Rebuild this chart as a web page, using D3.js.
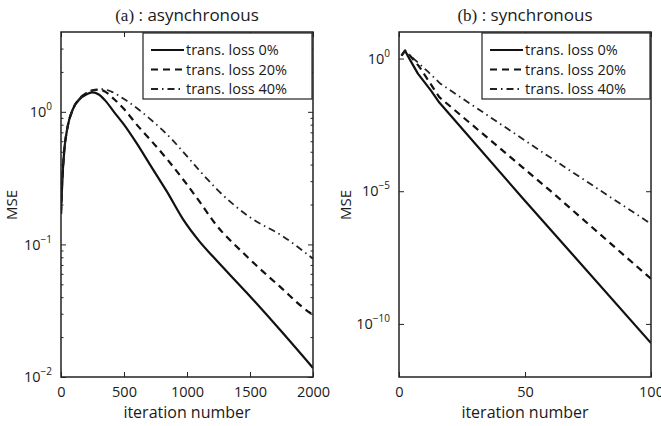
<!DOCTYPE html>
<html>
<head>
<meta charset="utf-8">
<script src="https://cdn.jsdelivr.net/npm/d3@7"></script>
<style>
  body { margin: 0; background: #fff; }
  svg { display: block; }
  text { font-family: "Open Sans", "Noto Sans", sans-serif; fill: #1a1a1a; }
  .axis path, .axis line { stroke: #222; }
</style>
</head>
<body>
<div id="chart"></div>
<script>
// ---- data: [iteration, MSE] ----
var asyncLoss0 = [[0,0.17],[10,0.3],[25,0.5],[50,0.75],[95,1.05],[150,1.25],[200,1.35],[250,1.40],[300,1.35],[350,1.22],[420,1.0],[500,0.8],[600,0.58],[706,0.40],[841,0.25],[968,0.155],[1100,0.105],[1206,0.081],[1476,0.043],[1738,0.0227],[2000,0.0117]];
var asyncLoss20 = [[0,0.17],[10,0.3],[25,0.5],[50,0.75],[95,1.05],[150,1.27],[200,1.38],[250,1.45],[300,1.47],[350,1.42],[420,1.25],[500,1.05],[611,0.78],[706,0.62],[850,0.43],[968,0.31],[1100,0.21],[1220,0.145],[1476,0.081],[1738,0.048],[1976,0.0305],[2000,0.0295]];
var asyncLoss40 = [[0,0.17],[10,0.3],[25,0.5],[50,0.75],[95,1.05],[150,1.27],[200,1.38],[250,1.45],[330,1.48],[400,1.42],[500,1.25],[611,1.05],[706,0.885],[880,0.62],[968,0.50],[1100,0.36],[1238,0.26],[1500,0.16],[1762,0.115],[2000,0.078]];

var syncLoss0 = [[1,1.3],[2.4,2.0],[3.5,1.25],[5,0.7],[7.5,0.27],[12.7,0.062],[16,0.022],[49,5.6e-6],[100,1.9e-11]];
var syncLoss20 = [[1,1.3],[2.4,2.0],[3.5,1.6],[5,1.1],[8,0.5],[16,0.035],[60,1.05e-5],[100,5e-9]];
var syncLoss40 = [[1,1.3],[2.4,2.0],[4,1.4],[6,0.95],[11.5,0.32],[16.3,0.115],[62,1.4e-4],[100,5.9e-7]];

var seriesNames = ["trans. loss 0%", "trans. loss 20%", "trans. loss 40%"];
var xTicksA = [0, 500, 1000, 1500, 2000];
var yTicksA = [0.01, 0.1, 1];
var xTicksB = [0, 50, 100];
var yTicksB = [1e-10, 1e-5, 1];

var W = 661, H = 426;
var svg = d3.select("#chart").append("svg").attr("width", W).attr("height", H);

var styles = [
  { dash: null, width: 2.2, color: "#111" },
  { dash: "7,5", width: 2.2, color: "#111" },
  { dash: "7,4,1.5,4", width: 1.8, color: "#222" }
];

function supLabel(sel) {
  // turn ticks into 10 with superscript exponent
  sel.each(function(d) {
    var t = d3.select(this), e = Math.round(Math.log10(d));
    t.text(null);
    t.append("tspan").text("10");
    t.append("tspan").attr("dy", "-0.7em").attr("font-size", "10px")
      .text(e < 0 ? "\u2212" + (-e) : e);
  });
}

function panel(opt) {
  var x = d3.scaleLinear().domain(opt.xDomain).range([opt.left, opt.right]);
  var y = d3.scaleLog().domain(opt.yDomain).range([opt.bottom, opt.top]);
  var g = svg.append("g");

  var clipId = "clip" + opt.id;
  g.append("clipPath").attr("id", clipId).append("rect")
    .attr("x", opt.left).attr("y", opt.top)
    .attr("width", opt.right - opt.left).attr("height", opt.bottom - opt.top);

  var line = d3.line().x(d => x(d[0])).y(d => y(d[1])).curve(opt.curve);
  g.append("g").attr("clip-path", "url(#" + clipId + ")")
    .selectAll("path").data(opt.series).enter().append("path")
    .attr("d", line)
    .attr("fill", "none")
    .attr("stroke", (d, i) => styles[i].color)
    .attr("stroke-width", (d, i) => styles[i].width)
    .attr("stroke-dasharray", (d, i) => styles[i].dash)
    .attr("stroke-linejoin", "round");

  // minor ticks on log axis
  if (opt.minor) {
    var minor = [];
    var lo = Math.floor(Math.log10(opt.yDomain[0])), hi = Math.ceil(Math.log10(opt.yDomain[1]));
    for (var p = lo; p < hi; p++) for (var m = 2; m <= 9; m++) {
      var v = m * Math.pow(10, p);
      if (v > opt.yDomain[0] && v < opt.yDomain[1]) minor.push(v);
    }
    g.append("g").attr("class", "axis").attr("transform", "translate(" + opt.left + ",0)")
      .call(d3.axisLeft(y).tickValues(minor).tickSize(-2.5).tickFormat(""))
      .call(a => a.select(".domain").remove());
    g.append("g").attr("class", "axis").attr("transform", "translate(" + opt.right + ",0)")
      .call(d3.axisRight(y).tickValues(minor).tickSize(-2.5).tickFormat(""))
      .call(a => a.select(".domain").remove());
  }

  // axes with inward ticks (box style)
  g.append("g").attr("class", "axis").attr("transform", "translate(0," + opt.bottom + ")")
    .call(d3.axisBottom(x).tickValues(opt.xTicks).tickSize(-5).tickPadding(10).tickFormat(d3.format("d")))
    .call(a => a.selectAll("text").attr("font-size", "14.5px").attr("dy", "0.71em"))
    .call(a => a.select(".domain").remove());
  g.append("g").attr("class", "axis").attr("transform", "translate(0," + opt.top + ")")
    .call(d3.axisTop(x).tickValues(opt.xTicks).tickSize(-5).tickFormat(""))
    .call(a => a.select(".domain").remove());
  g.append("g").attr("class", "axis").attr("transform", "translate(" + opt.left + ",0)")
    .call(d3.axisLeft(y).tickValues(opt.yTicks).tickSize(-5).tickPadding(9))
    .call(a => a.selectAll("text").attr("font-size", "14.5px").call(supLabel))
    .call(a => a.select(".domain").remove());
  g.append("g").attr("class", "axis").attr("transform", "translate(" + opt.right + ",0)")
    .call(d3.axisRight(y).tickValues(opt.yTicks).tickSize(-5).tickFormat(""))
    .call(a => a.select(".domain").remove());

  g.append("rect")
    .attr("x", opt.left).attr("y", opt.top)
    .attr("width", opt.right - opt.left).attr("height", opt.bottom - opt.top)
    .attr("fill", "none").attr("stroke", "#222").attr("stroke-width", 1.5);

  // title
  var cx = (opt.left + opt.right) / 2;
  var title = g.append("text").attr("x", cx).attr("y", 21).attr("text-anchor", "middle").attr("font-size", "17px");
  title.append("tspan").attr("font-family", "'Liberation Serif', serif").text(opt.tag);
  title.append("tspan").text(" : " + opt.title);

  g.append("text").attr("x", cx).attr("y", 418).attr("text-anchor", "middle")
    .attr("font-size", "16px").text("iteration number");
  g.append("text").attr("transform", "translate(" + opt.yLabelX + ",205) rotate(-90)")
    .attr("text-anchor", "middle").attr("font-size", "15px").text("MSE");

  // legend
  var lg = g.append("g");
  lg.append("rect").attr("x", opt.legX).attr("y", opt.top + 1)
    .attr("width", opt.right - 1 - opt.legX).attr("height", 66)
    .attr("fill", "#fff").attr("stroke", "#222").attr("stroke-width", 1.2);
  var rows = lg.selectAll("g.row").data(seriesNames).enter().append("g")
    .attr("transform", (d, i) => "translate(0," + (opt.top + 18 + i * 19.5) + ")");
  rows.append("line")
    .attr("x1", opt.legX + 8).attr("x2", opt.legX + 41)
    .attr("stroke", (d, i) => styles[i].color)
    .attr("stroke-width", (d, i) => styles[i].width)
    .attr("stroke-dasharray", (d, i) => styles[i].dash);
  rows.append("text").attr("x", opt.legX + 43).attr("dy", "0.36em")
    .attr("font-size", "14.5px").text(d => d);
}

panel({
  id: "a", left: 61, right: 313, top: 32, bottom: 377,
  xDomain: [0, 2000], yDomain: [0.01, 4],
  xTicks: xTicksA, yTicks: yTicksA, minor: true, curve: d3.curveMonotoneX,
  series: [asyncLoss0, asyncLoss20, asyncLoss40],
  tag: "(a)", title: "asynchronous", yLabelX: 17, legX: 143
});
panel({
  id: "b", left: 399, right: 651, top: 32, bottom: 377,
  xDomain: [0, 100], yDomain: [1e-12, 10],
  xTicks: xTicksB, yTicks: yTicksB, minor: false, curve: d3.curveLinear,
  series: [syncLoss0, syncLoss20, syncLoss40],
  tag: "(b)", title: "synchronous", yLabelX: 351, legX: 482
});
</script>
</body>
</html>
